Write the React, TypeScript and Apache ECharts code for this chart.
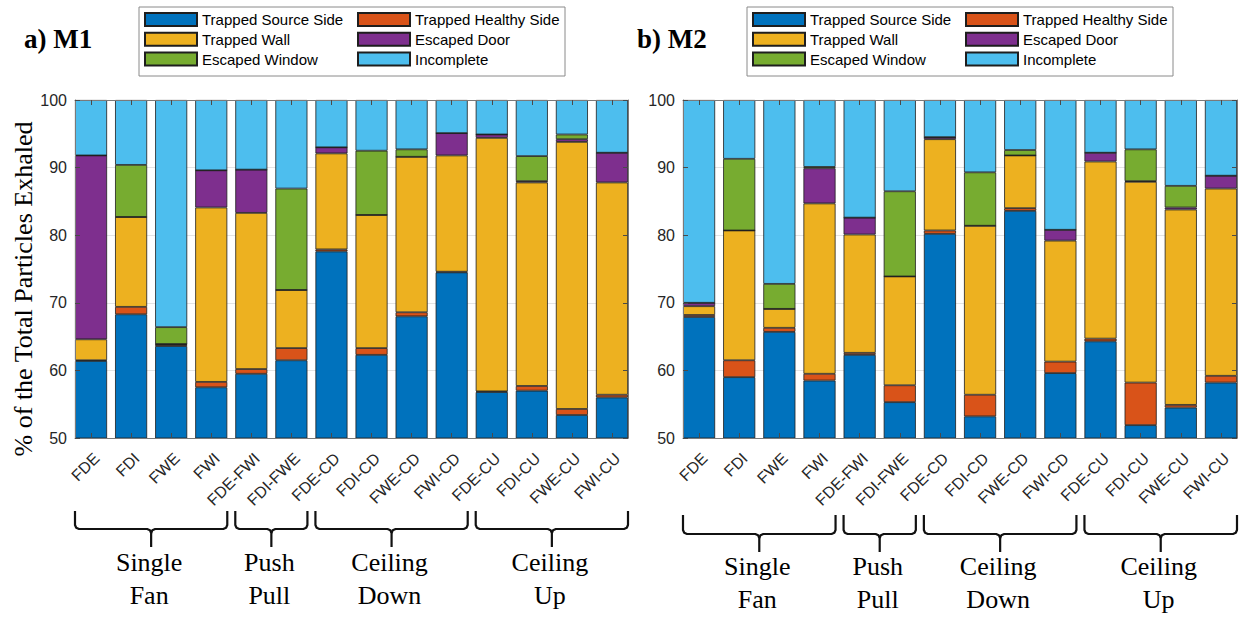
import React, { useEffect, useRef } from 'react';
import * as echarts from 'echarts';

const categories = ['FDE', 'FDI', 'FWE', 'FWI', 'FDE-FWI', 'FDI-FWE', 'FDE-CD', 'FDI-CD', 'FWE-CD', 'FWI-CD', 'FDE-CU', 'FDI-CU', 'FWE-CU', 'FWI-CU'];
const seriesNames = ['Trapped Source Side', 'Trapped Healthy Side', 'Trapped Wall', 'Escaped Door', 'Escaped Window', 'Incomplete'];
const seriesColors = ['#0072BD', '#D95319', '#EDB120', '#7E2F8E', '#77AC30', '#4DBEEE'];
const yMin = 50;
const yMax = 100;
const yStep = 10;
const panelTitles = ['a) M1', 'b) M2'];
const yAxisTitle = '% of the Total Particles Exhaled';

// M1
const m1Source = [61.4, 68.3, 63.6, 57.5, 59.5, 61.5, 77.6, 62.3, 68.0, 74.5, 56.8, 57.0, 53.4, 56.0];
const m1Healthy = [0.1, 1.1, 0.2, 0.8, 0.7, 1.8, 0.3, 1.0, 0.6, 0.1, 0.1, 0.7, 0.9, 0.4];
const m1Wall = [3.1, 13.3, 0.1, 25.8, 23.1, 8.6, 14.2, 19.7, 23.0, 17.2, 37.5, 30.1, 39.5, 31.4];
const m1Door = [27.2, 0, 0, 5.5, 6.4, 0, 0.9, 0, 0, 3.3, 0.5, 0.2, 0.4, 4.4];
const m1Window = [0, 7.7, 2.5, 0, 0, 15.0, 0, 9.5, 1.1, 0, 0, 3.7, 0.7, 0];
const m1Incomplete = [8.2, 9.6, 33.6, 10.4, 10.3, 13.1, 7.0, 7.5, 7.3, 4.9, 5.1, 8.3, 5.1, 7.8];

// M2
const m2Source = [67.9, 59.0, 65.7, 58.5, 62.3, 55.3, 80.2, 53.2, 83.6, 59.6, 64.3, 51.9, 54.5, 58.2];
const m2Healthy = [0.3, 2.5, 0.6, 1.0, 0.3, 2.5, 0.5, 3.2, 0.4, 1.7, 0.4, 6.3, 0.4, 1.0];
const m2Wall = [1.3, 19.2, 2.8, 25.2, 17.5, 16.1, 13.5, 25.0, 7.8, 17.9, 26.2, 29.7, 28.9, 27.7];
const m2Door = [0.5, 0, 0, 5.2, 2.5, 0, 0.3, 0, 0, 1.6, 1.3, 0.1, 0.3, 1.9];
const m2Window = [0, 10.6, 3.7, 0.2, 0, 12.6, 0, 7.9, 0.8, 0, 0, 4.7, 3.2, 0];
const m2Incomplete = [30.0, 8.7, 27.2, 9.9, 17.4, 13.5, 5.5, 10.7, 7.4, 19.2, 7.8, 7.3, 12.7, 11.2];

const panelSeries = [
  [m1Source, m1Healthy, m1Wall, m1Door, m1Window, m1Incomplete],
  [m2Source, m2Healthy, m2Wall, m2Door, m2Window, m2Incomplete],
];

// groups of scenarios (1-based category positions)
const groupLabels = ['Single\nFan', 'Push\nPull', 'Ceiling\nDown', 'Ceiling\nUp'];
const groupFrom = [1, 5, 7, 11];
const groupTo = [4, 6, 10, 14];

// layout
const panels = [
  { left: 75, width: 553, titleX: 24, bracketTop: 511, bracketMid: 529, bracketTip: 547, textY: 579 },
  { left: 683, width: 554, titleX: 637, bracketTop: 515, bracketMid: 534, bracketTip: 552, textY: 583 },
];
const GRID_TOP = 100;
const GRID_H = 338;
const X_MIN = 0.6;
const X_MAX = 14.4;
const BAR_HALF = 0.4;

const SANS = '"Liberation Sans", Arial, sans-serif';
const SERIF = '"Liberation Serif", "Times New Roman", serif';
const FRAME = '#7a7a7a';
const TICK = '#4a4a4a';
const LABEL = '#262626';

export default function App() {
  const ref = useRef<HTMLDivElement>(null);

  useEffect(() => {
    if (!ref.current) return;
    const chart = echarts.init(ref.current, undefined, { renderer: 'svg' });
    const positions = categories.map((_, i) => i + 1);

    const grid: any[] = [];
    const xAxis: any[] = [];
    const yAxis: any[] = [];
    const series: any[] = [];
    const legend: any[] = [];

    panels.forEach((p, c) => {
      const unit = p.width / (X_MAX - X_MIN);
      // grid 2c: frame, ticks, labels ; grid 2c+1: bars on a category axis (one band per unit)
      grid.push({ left: p.left, top: GRID_TOP, width: p.width, height: GRID_H, outerBoundsMode: 'none', containLabel: false });
      grid.push({
        left: p.left - (X_MIN - 0.5) * unit, top: GRID_TOP, width: unit * categories.length, height: GRID_H,
        outerBoundsMode: 'none', containLabel: false,
      });
      const gA = 2 * c;
      const gB = 2 * c + 1;
      // x axes: 3c (bottom frame), 3c+1 (top frame), 3c+2 (bars, hidden)
      xAxis.push({
        type: 'value', gridIndex: gA, position: 'bottom', min: X_MIN, max: X_MAX, z: 5,
        axisLine: { show: true, onZero: false, lineStyle: { color: FRAME, width: 1 } },
        axisTick: { show: true, inside: true, length: 5, customValues: positions, lineStyle: { color: TICK } },
        axisLabel: {
          show: true, customValues: positions, rotate: 45, align: 'right', verticalAlign: 'top', margin: 12,
          fontSize: 16, fontFamily: SANS, color: LABEL, hideOverlap: false,
          formatter: (v: number) => categories[Math.round(v) - 1] ?? '',
        },
        splitLine: { show: false },
      });
      xAxis.push({
        type: 'value', gridIndex: gA, position: 'top', min: X_MIN, max: X_MAX, z: 5,
        axisLine: { show: true, onZero: false, lineStyle: { color: FRAME, width: 1 } },
        axisTick: { show: true, inside: true, length: 5, customValues: positions, lineStyle: { color: TICK } },
        axisLabel: { show: false },
        splitLine: { show: false },
      });
      xAxis.push({
        type: 'category', gridIndex: gB, data: categories, boundaryGap: true, show: false,
      });
      // y axes: 4c gridlines, 4c+1 left, 4c+2 right, 4c+3 bars (hidden)
      yAxis.push({
        type: 'value', gridIndex: gA, position: 'left', min: yMin, max: yMax, interval: yStep, z: 0,
        axisLine: { show: false }, axisTick: { show: false }, axisLabel: { show: false },
        splitLine: { show: true, lineStyle: { color: '#e4e4e4', width: 1 } },
      });
      yAxis.push({
        type: 'value', gridIndex: gA, position: 'left', min: yMin, max: yMax, interval: yStep, z: 5,
        axisLine: { show: true, onZero: false, lineStyle: { color: FRAME, width: 1 } },
        axisTick: { show: true, inside: true, length: 5, lineStyle: { color: TICK } },
        axisLabel: { show: true, margin: 8, fontSize: 16, fontFamily: SANS, color: LABEL },
        splitLine: { show: false },
      });
      yAxis.push({
        type: 'value', gridIndex: gA, position: 'right', min: yMin, max: yMax, interval: yStep, z: 5,
        axisLine: { show: true, onZero: false, lineStyle: { color: FRAME, width: 1 } },
        axisTick: { show: true, inside: true, length: 5, lineStyle: { color: TICK } },
        axisLabel: { show: false },
        splitLine: { show: false },
      });
      yAxis.push({
        type: 'value', gridIndex: gB, min: yMin, max: yMax, interval: yStep, show: false,
        splitLine: { show: false },
      });

      seriesNames.forEach((name, k) => {
        series.push({
          type: 'bar', name, stack: 'panel' + c, xAxisIndex: 3 * c + 2, yAxisIndex: 4 * c + 3,
          barWidth: '80%', silent: true, clip: true, z: 2,
          itemStyle: { color: seriesColors[k], borderColor: '#1e1e1e', borderWidth: 0.8 },
          emphasis: { disabled: true },
          data: panelSeries[c][k],
        });
      });

      const legendCommon = {
        orient: 'vertical', top: 11.5, padding: 0, itemGap: 3.75, itemWidth: 52, itemHeight: 13,
        icon: 'rect', selectedMode: false,
        textStyle: { fontSize: 15, fontFamily: SANS, color: '#000', lineHeight: 16 },
      };
      legend.push({ ...legendCommon, left: p.left + 69, data: [seriesNames[0], seriesNames[2], seriesNames[4]] });
      legend.push({ ...legendCommon, left: p.left + 282, data: [seriesNames[1], seriesNames[3], seriesNames[5]] });
    });

    chart.setOption({
      animation: false,
      backgroundColor: '#fff',
      grid, xAxis, yAxis, series, legend,
    });

    const graphic: any[] = [];
    panels.forEach((p, c) => {
      graphic.push({
        type: 'text', x: p.titleX, y: 39, silent: true,
        style: { text: panelTitles[c], fontSize: 27, fontWeight: 'bold', fontFamily: SERIF, fill: '#000', align: 'left', verticalAlign: 'middle' },
      });
      graphic.push({
        type: 'rect', silent: true, z: 1,
        shape: { x: p.left + 64, y: 7, width: 426, height: 69 },
        style: { fill: '#fff', stroke: '#8a8a8a', lineWidth: 1 },
      });
      groupLabels.forEach((lbl, g) => {
        const x1 = chart.convertToPixel({ xAxisIndex: 3 * c }, groupFrom[g] - BAR_HALF) as number;
        const x2 = chart.convertToPixel({ xAxisIndex: 3 * c }, groupTo[g] + BAR_HALF) as number;
        const xm = (x1 + x2) / 2;
        const t = p.bracketTop, m = p.bracketMid, tip = p.bracketTip;
        const st = { stroke: '#111', lineWidth: 2.2, fill: 'none', lineJoin: 'round' };
        graphic.push({
          type: 'polyline', silent: true,
          shape: { points: [[x1, t], [x1, m - 4], [x1 + 1.2, m - 1.2], [x1 + 4, m], [xm - 4, m], [xm - 1.2, m + 1.2], [xm, m + 4], [xm, tip]] },
          style: st,
        });
        graphic.push({
          type: 'polyline', silent: true,
          shape: { points: [[xm, m + 4], [xm + 1.2, m + 1.2], [xm + 4, m], [x2 - 4, m], [x2 - 1.2, m - 1.2], [x2, m - 4], [x2, t]] },
          style: st,
        });
        graphic.push({
          type: 'text', x: xm - 2, y: p.textY, silent: true,
          style: { text: lbl, fontSize: 26, fontFamily: SERIF, fill: '#000', align: 'center', verticalAlign: 'middle', lineHeight: 33 },
        });
      });
    });
    graphic.push({
      type: 'text', x: 23, y: 289, rotation: Math.PI / 2, silent: true,
      style: { text: yAxisTitle, fontSize: 26, fontFamily: SERIF, fill: '#000', align: 'center', verticalAlign: 'middle' },
    });

    chart.setOption({ graphic });

    return () => chart.dispose();
  }, []);

  return <div ref={ref} style={{ position: 'absolute', left: 0, top: 0, width: 1239, height: 618 }} />;
}
